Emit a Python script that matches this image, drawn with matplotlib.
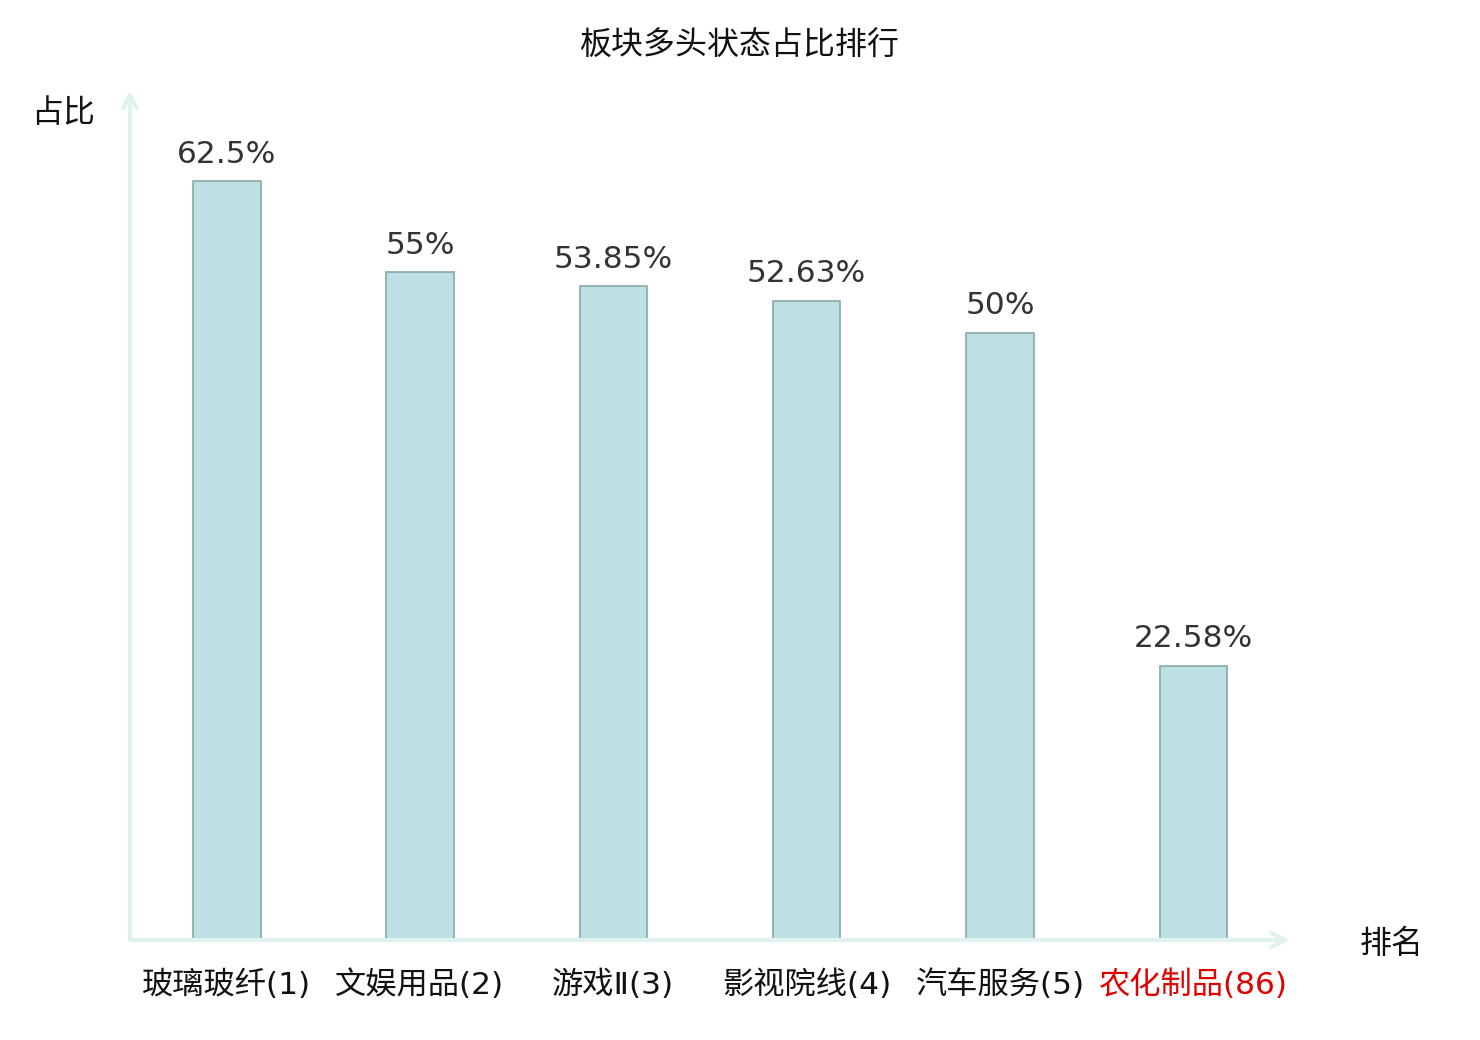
import matplotlib
matplotlib.use('Agg')
import matplotlib.pyplot as plt

plt.rcParams['font.family'] = ['Noto Sans CJK SC', 'DejaVu Sans']

# 数据
categories = ['玻璃玻纤(1)', '文娱用品(2)', '游戏Ⅱ(3)', '影视院线(4)', '汽车服务(5)', '农化制品(86)']
values = [62.5, 55, 53.85, 52.63, 50, 22.58]
value_labels = ['62.5%', '55%', '53.85%', '52.63%', '50%', '22.58%']
label_colors = ['#111111'] * 5 + ['#e00000']

fig = plt.figure(figsize=(14.8, 10.4), dpi=100)
ax = fig.add_axes([130 / 1480, 100 / 1040, 1160 / 1480, 850 / 1040])

x = range(len(categories))
bars = ax.bar(x, values, width=0.35, color='#bce0e3', edgecolor='#8aa8a8', linewidth=1.2)

for b, lab in zip(bars, value_labels):
    ax.annotate(lab, (b.get_x() + b.get_width() / 2, b.get_height()),
                xytext=(0, 9), textcoords='offset points',
                ha='center', va='bottom', fontsize=22.5, color='#333333',
                family=['DejaVu Sans'])

ax.set_xlim(-0.5, 5.5)
ax.set_ylim(0, 70)
ax.set_yticks([])
ax.set_xticks(list(x))
ax.set_xticklabels(categories, fontsize=22.5, family=['DejaVu Sans', 'Noto Sans CJK SC'])
for t, c in zip(ax.get_xticklabels(), label_colors):
    t.set_color(c)
ax.tick_params(axis='x', length=0, pad=21)
for s in ax.spines.values():
    s.set_visible(False)

# 坐标轴箭头
axis_color = '#dff2f0'
ax.annotate('', xy=(1.0, 0), xytext=(0, 0), xycoords='axes fraction',
            arrowprops=dict(arrowstyle='->,head_length=1.0,head_width=0.5',
                            color=axis_color, lw=3, shrinkA=0, shrinkB=0))
ax.annotate('', xy=(0, 1.0), xytext=(0, 0), xycoords='axes fraction',
            arrowprops=dict(arrowstyle='->,head_length=1.0,head_width=0.5',
                            color=axis_color, lw=3, shrinkA=0, shrinkB=0))

fig.text(63 / 1480, 1 - 113 / 1040, '占比', ha='center', va='center', fontsize=23, color='#111111')
fig.text(1392 / 1480, 1 - 944 / 1040, '排名', ha='center', va='center', fontsize=23, color='#111111')
fig.text(740 / 1480, 1 - 46 / 1040, '板块多头状态占比排行', ha='center', va='center',
         fontsize=23, color='#111111')

fig.savefig('out.png', dpi=100)
